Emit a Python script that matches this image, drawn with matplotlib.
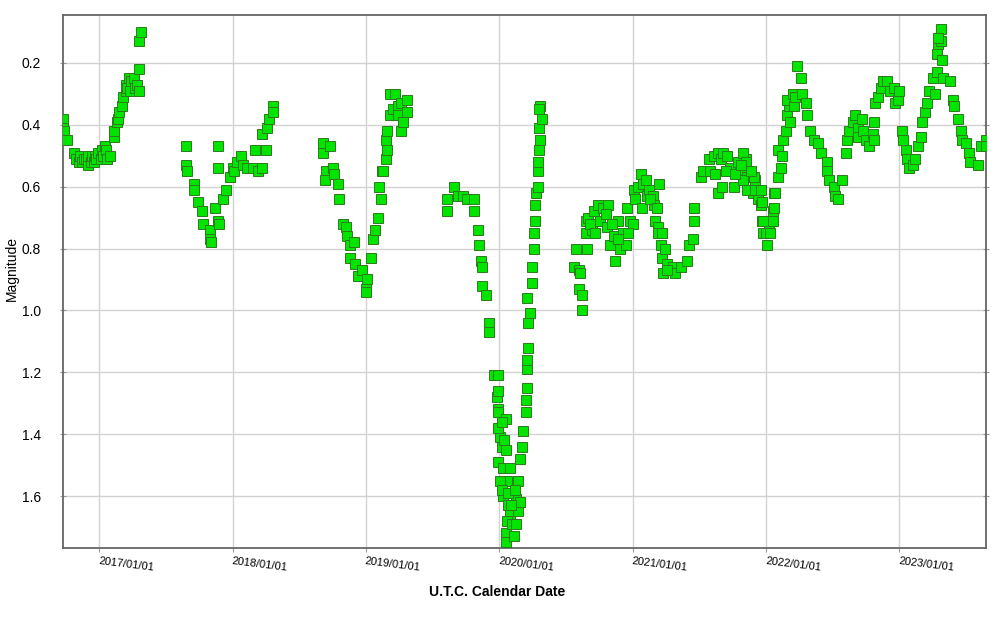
import datetime as dt

import matplotlib
matplotlib.use("Agg")
from matplotlib import pyplot as plt
import matplotlib.dates as mdates

plt.rcParams['font.family'] = ['Liberation Sans', 'DejaVu Sans']

# observation epochs (decimal year) and visual magnitudes, one pair of lists per season
t_2016 = [2016.73, 2016.73, 2016.74, 2016.76, 2016.81, 2016.83, 2016.85, 2016.86, 2016.87,
          2016.89, 2016.90, 2016.92, 2016.92, 2016.94, 2016.95, 2016.96, 2016.97, 2016.98,
          2016.99, 2017.01, 2017.02, 2017.03, 2017.04, 2017.05, 2017.06, 2017.08, 2017.11,
          2017.11, 2017.13, 2017.14, 2017.15, 2017.17, 2017.18, 2017.20, 2017.20, 2017.21,
          2017.22, 2017.23, 2017.24, 2017.26, 2017.27, 2017.28, 2017.30, 2017.30, 2017.30,
          2017.31]
m_2016 = [0.38, 0.41, 0.42, 0.45, 0.49, 0.51, 0.52, 0.50, 0.52,
          0.51, 0.51, 0.53, 0.50, 0.52, 0.50, 0.52, 0.50, 0.51,
          0.49, 0.51, 0.48, 0.50, 0.47, 0.48, 0.51, 0.50, 0.44,
          0.42, 0.39, 0.38, 0.36, 0.34, 0.31, 0.29, 0.27, 0.28,
          0.25, 0.29, 0.26, 0.25, 0.28, 0.27, 0.29, 0.22, 0.13,
          0.10]

t_2017 = [2017.65, 2017.65, 2017.66, 2017.71, 2017.71, 2017.74, 2017.77, 2017.78, 2017.83,
          2017.83, 2017.84, 2017.87, 2017.89, 2017.90, 2017.89, 2017.89, 2017.93, 2017.95,
          2017.98, 2018.00, 2018.01, 2018.03, 2018.06, 2018.08, 2018.11, 2018.15, 2018.17,
          2018.19, 2018.22, 2018.22, 2018.25, 2018.26, 2018.27, 2018.30, 2018.30]
m_2017 = [0.47, 0.53, 0.55, 0.59, 0.61, 0.65, 0.68, 0.72, 0.74,
          0.77, 0.78, 0.67, 0.71, 0.72, 0.47, 0.54, 0.64, 0.61,
          0.57, 0.54, 0.55, 0.52, 0.50, 0.53, 0.54, 0.54, 0.48,
          0.55, 0.54, 0.43, 0.48, 0.41, 0.38, 0.34, 0.36]

t_2018 = [2018.68, 2018.68, 2018.73, 2018.70, 2018.69, 2018.75, 2018.76, 2018.79, 2018.80,
          2018.83, 2018.85, 2018.86, 2018.88, 2018.91, 2018.88, 2018.92, 2018.94, 2018.97,
          2019.00, 2019.00, 2019.01, 2019.04, 2019.05, 2019.07, 2019.09, 2019.11, 2019.10,
          2019.12, 2019.13, 2019.15, 2019.16, 2019.15, 2019.16, 2019.18, 2019.20, 2019.18,
          2019.22, 2019.24, 2019.24, 2019.26, 2019.26, 2019.31, 2019.31, 2019.28]
m_2018 = [0.46, 0.49, 0.47, 0.55, 0.58, 0.54, 0.56, 0.59, 0.64,
          0.72, 0.73, 0.76, 0.79, 0.78, 0.83, 0.85, 0.89, 0.87,
          0.93, 0.94, 0.90, 0.83, 0.77, 0.74, 0.70, 0.64, 0.60,
          0.55, 0.55, 0.51, 0.48, 0.45, 0.42, 0.37, 0.35, 0.30,
          0.30, 0.34, 0.37, 0.42, 0.33, 0.32, 0.36, 0.39]

t_2019 = [2019.61, 2019.61, 2019.66, 2019.69, 2019.73, 2019.76, 2019.81, 2019.81, 2019.84,
          2019.85, 2019.86, 2019.87, 2019.87, 2019.90, 2019.92, 2019.92, 2019.96, 2019.99,
          2019.98, 2019.99, 2019.99, 2020.05, 2020.01, 2020.02, 2020.05, 2019.99, 2020.03,
          2020.06, 2020.03, 2020.07, 2020.08, 2020.05, 2020.05, 2020.11, 2020.14, 2020.13,
          2020.16, 2020.14, 2020.16, 2020.17, 2020.18, 2020.20, 2020.20, 2020.21, 2020.21,
          2020.21, 2020.22, 2020.22, 2020.21, 2020.23, 2020.25, 2020.25, 2020.26, 2020.26,
          2020.27, 2020.27, 2020.28, 2020.29, 2020.29, 2020.29, 2020.30, 2020.31, 2020.30,
          2020.31, 2020.30, 2020.32, 2020.01, 2020.02, 2020.07, 2020.09, 2020.06, 2020.10,
          2020.13, 2020.12, 2020.08, 2019.99, 2020.02, 2020.04, 2019.99]
m_2019 = [0.68, 0.64, 0.60, 0.63, 0.63, 0.64, 0.64, 0.68, 0.74,
          0.79, 0.84, 0.86, 0.92, 0.95, 1.04, 1.07, 1.21, 1.21,
          1.28, 1.32, 1.33, 1.35, 1.41, 1.44, 1.45, 1.49, 1.51,
          1.55, 1.60, 1.63, 1.66, 1.72, 1.75, 1.73, 1.65, 1.61,
          1.62, 1.55, 1.48, 1.44, 1.39, 1.33, 1.29, 1.25, 1.19,
          1.16, 1.12, 1.04, 0.96, 1.01, 0.91, 0.86, 0.80, 0.75,
          0.71, 0.66, 0.62, 0.60, 0.55, 0.52, 0.48, 0.45, 0.41,
          0.34, 0.35, 0.38, 1.55, 1.58, 1.59, 1.63, 1.68, 1.69,
          1.69, 1.58, 1.51, 1.38, 1.36, 1.42, 1.26]

t_2020 = [2020.56, 2020.58, 2020.60, 2020.61, 2020.60, 2020.62, 2020.62, 2020.65, 2020.65,
          2020.66, 2020.67, 2020.70, 2020.71, 2020.74, 2020.76, 2020.78, 2020.81, 2020.82,
          2020.83, 2020.86, 2020.87, 2020.89, 2020.91, 2020.93, 2020.95, 2020.96, 2020.98,
          2021.00, 2021.01, 2021.02, 2021.04, 2021.06, 2021.07, 2021.08, 2021.10, 2021.11,
          2021.12, 2021.15, 2021.16, 2021.17, 2021.19, 2021.19, 2021.21, 2021.22, 2021.23,
          2021.26, 2021.27, 2021.30, 2021.32, 2021.36, 2021.41, 2021.42, 2021.45, 2021.46,
          2021.46, 2021.20, 2020.68, 2020.72, 2020.80, 2020.85, 2020.89, 2020.97, 2021.13,
          2021.18, 2021.22, 2021.24, 2021.26]
m_2020 = [0.86, 0.80, 0.87, 0.88, 0.93, 0.95, 1.00, 0.71, 0.75,
          0.80, 0.70, 0.74, 0.68, 0.66, 0.71, 0.67, 0.73, 0.66,
          0.79, 0.76, 0.84, 0.71, 0.80, 0.75, 0.79, 0.67, 0.71,
          0.72, 0.61, 0.64, 0.60, 0.56, 0.67, 0.59, 0.58, 0.63,
          0.61, 0.63, 0.66, 0.71, 0.73, 0.75, 0.79, 0.83, 0.88,
          0.85, 0.87, 0.86, 0.88, 0.86, 0.84, 0.79, 0.77, 0.71,
          0.67, 0.59, 0.72, 0.75, 0.69, 0.72, 0.77, 0.75, 0.64,
          0.67, 0.75, 0.80, 0.87]

t_2021 = [2021.51, 2021.53, 2021.57, 2021.61, 2021.64, 2021.66, 2021.68, 2021.64, 2021.67,
          2021.71, 2021.73, 2021.76, 2021.79, 2021.82, 2021.85, 2021.86, 2021.90, 2021.92,
          2021.94, 2021.96, 2021.97, 2021.98, 2022.01, 2022.02, 2022.05, 2022.06, 2022.09,
          2021.83, 2021.85, 2021.83, 2021.86, 2021.91, 2021.92, 2021.96, 2021.97, 2021.98,
          2022.00, 2022.03, 2022.05, 2022.06, 2022.07, 2022.09, 2022.11, 2022.12, 2022.13,
          2022.15, 2022.16, 2022.17, 2022.16, 2022.18, 2022.20, 2022.21, 2022.22, 2022.23,
          2022.26, 2022.27, 2022.30, 2022.31, 2022.33, 2022.36, 2022.39, 2022.41, 2022.46,
          2022.46, 2022.47, 2022.51, 2022.52, 2022.54, 2022.57, 2021.58, 2021.62, 2021.70,
          2021.77, 2021.81, 2021.89]
m_2021 = [0.57, 0.55, 0.51, 0.50, 0.49, 0.51, 0.49, 0.62, 0.60,
          0.50, 0.54, 0.60, 0.52, 0.55, 0.51, 0.57, 0.62, 0.58,
          0.64, 0.66, 0.71, 0.75, 0.79, 0.73, 0.68, 0.62, 0.48,
          0.49, 0.52, 0.58, 0.61, 0.57, 0.61, 0.61, 0.65, 0.71,
          0.75, 0.75, 0.71, 0.67, 0.62, 0.57, 0.54, 0.50, 0.45,
          0.42, 0.37, 0.34, 0.32, 0.39, 0.30, 0.34, 0.31, 0.21,
          0.25, 0.30, 0.33, 0.37, 0.42, 0.45, 0.46, 0.49, 0.52,
          0.55, 0.58, 0.60, 0.63, 0.64, 0.58, 0.55, 0.56, 0.55,
          0.56, 0.53, 0.55]

t_2022 = [2022.60, 2022.61, 2022.62, 2022.65, 2022.67, 2022.69, 2022.69, 2022.72, 2022.73,
          2022.75, 2022.77, 2022.80, 2022.81, 2022.81, 2022.82, 2022.84, 2022.86, 2022.88,
          2022.91, 2022.93, 2022.96, 2022.97, 2022.99, 2023.00, 2023.02, 2023.03, 2023.05,
          2023.06, 2023.07, 2023.10, 2023.12, 2023.14, 2023.16, 2023.17, 2023.19, 2023.21,
          2023.22, 2023.25, 2023.27, 2023.28, 2023.28, 2023.29, 2023.31, 2023.31, 2023.29,
          2023.32, 2023.33, 2023.38, 2023.40, 2023.41, 2023.44, 2023.46, 2023.47, 2023.50,
          2023.52, 2023.53, 2023.59, 2023.61, 2023.65, 2023.65]
m_2022 = [0.49, 0.45, 0.42, 0.39, 0.37, 0.41, 0.44, 0.38, 0.42,
          0.45, 0.47, 0.43, 0.39, 0.45, 0.33, 0.31, 0.28, 0.26,
          0.26, 0.29, 0.28, 0.33, 0.32, 0.29, 0.42, 0.45, 0.48,
          0.51, 0.54, 0.53, 0.51, 0.47, 0.44, 0.39, 0.36, 0.33,
          0.29, 0.25, 0.30, 0.23, 0.17, 0.14, 0.13, 0.09, 0.12,
          0.19, 0.25, 0.26, 0.32, 0.34, 0.38, 0.42, 0.45, 0.46,
          0.49, 0.52, 0.53, 0.47, 0.45, 0.47]

y_ticks = [0.2, 0.4, 0.6, 0.8, 1.0, 1.2, 1.4, 1.6]


def to_date(year_frac):
    year = int(year_frac)
    start = dt.datetime(year, 1, 1)
    return start + dt.timedelta(days=(year_frac - year) * 365.25)


dates = []
mags = []
for t, m in [(t_2016, m_2016), (t_2017, m_2017), (t_2018, m_2018), (t_2019, m_2019),
             (t_2020, m_2020), (t_2021, m_2021), (t_2022, m_2022)]:
    dates += [to_date(v) for v in t]
    mags += m

fig = plt.figure(figsize=(10, 6.18), dpi=100)
ax = fig.add_axes([0.063, 0.1133, 0.923, 0.8625])

ax.plot(dates, mags, linestyle='none', marker='s', markersize=7.0,
        markerfacecolor='#00e400', markeredgecolor='#2c7a1c', markeredgewidth=0.7,
        zorder=3)

ax.set_xlim(to_date(2016.73), to_date(2023.65))
ax.set_ylim(1.768, 0.045)

ax.xaxis.set_major_locator(mdates.YearLocator())
ax.xaxis.set_major_formatter(mdates.DateFormatter('%Y/%m/%d'))
ax.set_yticks(y_ticks)
ax.set_yticklabels([f'{v:.1f}' for v in y_ticks])

for lbl in ax.get_xticklabels():
    lbl.set_rotation(-7)
    lbl.set_ha('left')
    lbl.set_va('top')
    lbl.set_rotation_mode('anchor')

ax.tick_params(axis='x', labelsize=8, length=3, color='#999999', pad=3)
ax.tick_params(axis='y', labelsize=10, length=4, color='#999999', pad=14,
               right=True, direction='inout')

ax.grid(True, color='#d2d2d2', linewidth=1.0, zorder=0)
ax.set_axisbelow(True)
for side in ['left', 'right', 'top', 'bottom']:
    ax.spines[side].set_color('#666666')
    ax.spines[side].set_linewidth(1.3)

fig.text(0.012, 0.566, 'Magnitude', rotation=90, va='center', ha='center', fontsize=10)
fig.text(0.497, 0.042, 'U.T.C. Calendar Date', va='center', ha='center',
         fontsize=10, fontweight='bold')

fig.savefig('out.png', dpi=100, facecolor='white')
